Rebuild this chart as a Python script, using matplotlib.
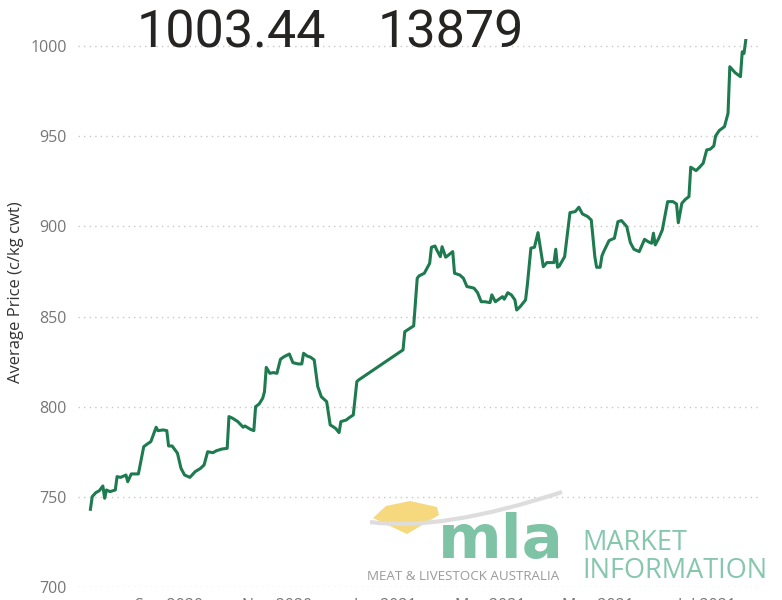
import matplotlib
matplotlib.use('Agg')
import matplotlib.pyplot as plt
import matplotlib.dates as mdates
from matplotlib.patches import Polygon, PathPatch
from matplotlib.path import Path
import pandas as pd

# daily indicator price
dates = [
    '2020-07-19', '2020-07-20', '2020-07-22', '2020-07-24', '2020-07-26', '2020-07-27', '2020-07-28', '2020-07-30',
    '2020-08-02', '2020-08-03', '2020-08-05', '2020-08-08', '2020-08-09', '2020-08-11', '2020-08-15', '2020-08-18',
    '2020-08-20', '2020-08-22', '2020-08-25', '2020-08-26', '2020-08-29', '2020-08-31',
    '2020-09-01', '2020-09-03', '2020-09-06', '2020-09-08', '2020-09-10', '2020-09-13', '2020-09-16', '2020-09-19',
    '2020-09-21', '2020-09-23', '2020-09-26', '2020-09-28',
    '2020-10-01', '2020-10-04', '2020-10-05', '2020-10-07', '2020-10-10', '2020-10-13', '2020-10-14', '2020-10-17',
    '2020-10-19', '2020-10-20', '2020-10-22', '2020-10-24', '2020-10-25', '2020-10-26', '2020-10-28', '2020-10-30',
    '2020-11-01', '2020-11-03', '2020-11-05', '2020-11-08', '2020-11-10', '2020-11-13', '2020-11-15', '2020-11-16',
    '2020-11-18', '2020-11-20', '2020-11-22', '2020-11-24', '2020-11-26', '2020-11-29',
    '2020-12-01', '2020-12-04', '2020-12-06', '2020-12-07', '2020-12-10', '2020-12-12', '2020-12-14', '2020-12-16',
    '2020-12-17',
    '2021-01-11', '2021-01-12', '2021-01-15', '2021-01-17', '2021-01-19', '2021-01-20', '2021-01-23', '2021-01-26',
    '2021-01-27', '2021-01-29', '2021-01-30',
    '2021-02-01', '2021-02-02', '2021-02-04', '2021-02-05', '2021-02-08', '2021-02-09', '2021-02-12', '2021-02-14',
    '2021-02-16', '2021-02-18', '2021-02-20', '2021-02-22', '2021-02-24', '2021-02-26',
    '2021-03-01', '2021-03-02', '2021-03-04', '2021-03-06', '2021-03-08', '2021-03-09', '2021-03-11', '2021-03-13',
    '2021-03-15', '2021-03-16', '2021-03-18', '2021-03-21', '2021-03-22', '2021-03-24', '2021-03-26', '2021-03-28',
    '2021-03-31',
    '2021-04-02', '2021-04-06', '2021-04-07', '2021-04-08', '2021-04-09', '2021-04-12', '2021-04-15', '2021-04-18',
    '2021-04-20', '2021-04-22', '2021-04-25', '2021-04-27', '2021-04-29', '2021-04-30',
    '2021-05-02', '2021-05-03', '2021-05-04', '2021-05-07', '2021-05-10', '2021-05-12', '2021-05-14', '2021-05-17',
    '2021-05-19', '2021-05-21', '2021-05-24', '2021-05-27', '2021-05-29', '2021-05-31',
    '2021-06-01', '2021-06-02', '2021-06-04', '2021-06-06', '2021-06-09', '2021-06-12', '2021-06-14', '2021-06-15',
    '2021-06-17', '2021-06-19', '2021-06-21', '2021-06-22', '2021-06-25', '2021-06-27', '2021-06-29',
    '2021-07-01', '2021-07-03', '2021-07-05', '2021-07-06', '2021-07-08', '2021-07-11', '2021-07-13', '2021-07-14',
    '2021-07-17', '2021-07-20', '2021-07-21', '2021-07-22', '2021-07-23',
]
prices = [
    743.1, 750.1, 752.3, 753.4, 756.0, 749.2, 753.8, 752.9,
    753.8, 761.2, 760.8, 762.1, 758.4, 762.7, 762.7, 777.8,
    779.3, 780.6, 788.6, 786.7, 787.1, 786.7,
    778.2, 778.2, 774.2, 765.8, 762.1, 760.8, 764.0, 765.8,
    767.7, 775.0, 774.5, 775.6,
    776.5, 776.9, 794.5, 793.6, 791.7, 788.6, 789.3, 787.5,
    786.7, 800.0, 801.5, 804.7, 808.3, 821.8, 818.5, 818.9,
    818.5, 826.3, 827.7, 829.2, 824.4, 823.7, 823.7, 829.6,
    828.1, 827.4, 825.9, 811.1, 805.5, 802.8,
    789.9, 788.0, 785.6, 791.7, 792.6, 794.1, 795.4, 813.9,
    814.8,
    831.5, 841.6, 843.5, 844.8, 871.2, 872.5, 874.0, 879.5,
    888.4, 889.1, 886.9,
    883.2, 888.7, 882.9, 883.6, 886.0, 874.0, 873.0, 871.2,
    866.6, 866.2, 865.7, 863.2, 858.2, 858.2,
    857.7, 862.0, 858.2, 859.6, 861.0, 859.6, 863.2, 862.0,
    859.2, 853.6, 855.5, 859.2, 867.5, 887.9, 888.4, 896.5,
    877.6,
    879.9, 879.9, 887.3, 877.3, 878.0, 883.2, 907.6, 908.2,
    910.6, 906.9, 905.4, 903.5, 883.2, 877.3,
    877.3, 883.6, 886.0, 892.1, 893.4, 902.6, 903.2, 899.8,
    891.0, 887.3, 886.0, 892.8, 891.5, 890.6,
    896.2, 889.7, 893.4, 898.0, 913.7, 913.7, 912.4, 902.0,
    912.8, 915.0, 916.5, 932.8, 930.9, 932.8, 935.0,
    942.4, 942.8, 944.6, 950.1, 953.1, 955.3, 962.7, 988.5,
    985.2, 983.0, 996.8, 995.9, 1003.44,
]
card_price = '1003.44'
card_head = '13879'
y_ticks = [700, 750, 800, 850, 900, 950, 1000]

W, H = 782, 600
fig = plt.figure(figsize=(W / 100, H / 100), dpi=100)
fig.patch.set_facecolor('white')


def px(x, y):
    return x / W, 1 - y / H


# axes placed so that 700 sits at y=587 and 1000 at y=46
ax = fig.add_axes([78 / W, 13 / H, 682 / W, 548.2 / H])
ax.set_facecolor('none')

x = pd.to_datetime(dates)
ax.plot(x, prices, color='#1E7A4F', lw=2.2, solid_joinstyle='round', zorder=3)

ax.set_ylim(700, 1004)
ax.set_xlim(pd.Timestamp('2020-07-12'), pd.Timestamp('2021-07-31'))
ax.set_yticks(y_ticks)
ax.yaxis.grid(True, linestyle=(0, (1, 3)), color='#C8C8C8', lw=1)
ax.set_axisbelow(True)
for s in ax.spines.values():
    s.set_visible(False)
ax.tick_params(length=0, labelsize=11.5, labelcolor='#777777', pad=8)
ax.xaxis.set_major_locator(mdates.MonthLocator(bymonth=[1, 3, 5, 7, 9, 11]))
ax.xaxis.set_major_formatter(mdates.DateFormatter('%b %Y'))
for lab in ax.get_yticklabels() + ax.get_xticklabels():
    lab.set_family('Open Sans')

fig.text(*px(16, 292), 'Average Price (c/kg cwt)', rotation=90, ha='center', va='center',
         fontsize=12, color='#333333', family='Open Sans')

# big card values
big = ['Roboto', 'DejaVu Sans']
fig.text(*px(137, 48), card_price, fontsize=37.5, color='#252423', family=big, va='baseline')
fig.text(*px(378, 48), card_head, fontsize=37.5, color='#252423', family=big, va='baseline')

# mla watermark
wedge = [px(373, 518), px(386, 506), px(410, 501), px(437, 507), px(439, 515), px(407, 534)]
fig.patches.append(Polygon(wedge, closed=True, transform=fig.transFigure,
                           facecolor='#F6D97E', edgecolor='none', zorder=1))
swoosh = Path([px(370, 522), px(440, 532), px(562, 492)], [Path.MOVETO, Path.CURVE3, Path.CURVE3])
fig.patches.append(PathPatch(swoosh, transform=fig.transFigure, facecolor='none',
                             edgecolor='#DDDDDD', lw=3, zorder=1))
fig.text(*px(438, 558), 'mla', fontsize=44, fontweight='bold', color='#7EC3A6',
         family='DejaVu Sans', va='baseline')
fig.text(*px(367, 580), 'MEAT & LIVESTOCK AUSTRALIA', fontsize=9.6, color='#9A9A9A',
         family='Open Sans', va='baseline')
fig.text(*px(582, 550), 'MARKET', fontsize=19.5, color='#86C7AD', family='Open Sans', va='baseline')
fig.text(*px(582, 578), 'INFORMATION', fontsize=19.5, color='#86C7AD', family='Open Sans', va='baseline')

fig.savefig('out.png', dpi=100)
